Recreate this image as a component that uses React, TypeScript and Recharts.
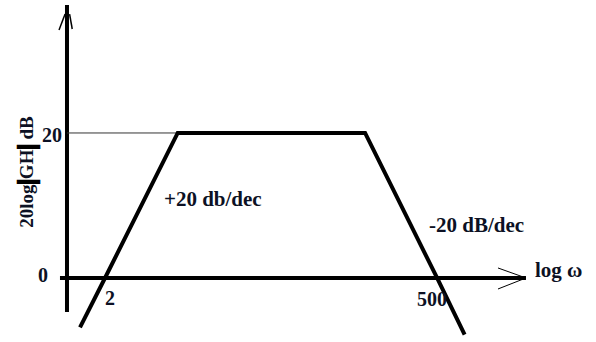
import React from "react";
import {
  LineChart,
  Line,
  XAxis,
  YAxis,
  ReferenceLine,
  ReferenceDot,
} from "recharts";

// Asymptotic magnitude plot: +20 dB/dec rise, flat 20 dB band, -20 dB/dec fall
const omega = [1.32, 2, 6.7, 151, 500, 790];
const gainDb = [-6.8, 0, 20, 20, 0, -7.8];

const levelTicks = [
  { text: "20", omega: 0.978, db: 18.76 },
  { text: "0", omega: 0.775, db: -0.55 },
];
const crossoverTicks = [
  { text: "2", omega: 2.174, db: -3.72 },
  { text: "500", omega: 459, db: -3.86 },
];
const slopeNotes = [
  { text: "+20 db/dec", omega: 5.33, db: 9.93 },
  { text: "-20 dB/dec", omega: 437, db: 6.34 },
  { text: "log ω", omega: 2546, db: 0.14 },
];

// hand-drawn axes (log ω horizontally, dB vertically)
const Y_AXIS_OMEGA = 1.063;
const X_AXIS_START = 0.946;
const X_AXIS_END = 2191;
const Y_AXIS_TOP = 37.66;
const Y_AXIS_BOTTOM = -4.69;

const W = 596;
const H = 342;
const INK = "#0c1124";
const FONT = "'Liberation Serif', 'Times New Roman', serif";

const chartData = omega.map((w, i) => ({ omega: w, gain: gainDb[i] }));

const textShape =
  (text: string, anchor: "start" | "middle" | "end", size = 20) =>
  (props: any) =>
    (
      <text
        x={props.cx}
        y={props.cy}
        textAnchor={anchor}
        fill={INK}
        fontFamily={FONT}
        fontWeight="bold"
        fontSize={size}
      >
        {text}
      </text>
    );

const axisTitleShape = (props: any) => (
  <text
    x={props.cx}
    y={props.cy}
    transform={`rotate(-90, ${props.cx}, ${props.cy})`}
    textAnchor="middle"
    dominantBaseline="central"
    fill={INK}
    fontFamily={FONT}
    fontWeight="bold"
    fontSize={19}
  >
    20log
    <tspan fontSize={24} fill="#000" stroke="#000" strokeWidth={2.5}>
      |
    </tspan>
    GH
    <tspan fontSize={24} fill="#000" stroke="#000" strokeWidth={2.5}>
      |
    </tspan>{" "}
    dB
  </text>
);

const App: React.FC = () => {
  return (
    <div style={{ position: "absolute", left: 0, top: 0, background: "#fff" }}>
      <LineChart
        width={W}
        height={H}
        data={chartData}
        margin={{ top: 0, right: 0, bottom: 0, left: 0 }}
      >
        <XAxis
          dataKey="omega"
          type="number"
          scale="log"
          domain={[0.349, 7020]}
          hide
        />
        <YAxis type="number" domain={[-8.83, 38.34]} hide />

        {/* axes */}
        <ReferenceLine
          segment={[
            { x: Y_AXIS_OMEGA, y: Y_AXIS_TOP },
            { x: Y_AXIS_OMEGA, y: Y_AXIS_BOTTOM },
          ]}
          stroke="#000"
          strokeWidth={4}
        />
        <ReferenceLine
          segment={[
            { x: X_AXIS_START, y: 0 },
            { x: X_AXIS_END, y: 0 },
          ]}
          stroke="#000"
          strokeWidth={4}
        />
        <ReferenceLine
          segment={[
            { x: 1376, y: 1.38 },
            { x: X_AXIS_END, y: 0 },
          ]}
          stroke="#000"
          strokeWidth={1}
        />
        <ReferenceLine
          segment={[
            { x: 1376, y: -1.52 },
            { x: X_AXIS_END, y: 0 },
          ]}
          stroke="#000"
          strokeWidth={1}
        />
        <ReferenceLine
          segment={[
            { x: 1.03, y: 36.4 },
            { x: 0.931, y: 34.21 },
          ]}
          stroke="#000"
          strokeWidth={1.5}
        />
        <ReferenceLine
          segment={[
            { x: 1.11, y: 36.4 },
            { x: 1.16, y: 34.34 },
          ]}
          stroke="#000"
          strokeWidth={1.5}
        />

        {/* 20 dB guide */}
        <ReferenceLine
          segment={[
            { x: Y_AXIS_OMEGA, y: 20 },
            { x: omega[2], y: 20 },
          ]}
          stroke="#333"
          strokeWidth={1}
        />

        <Line
          type="linear"
          dataKey="gain"
          stroke="#000"
          strokeWidth={4}
          dot={false}
          activeDot={false}
          isAnimationActive={false}
        />

        {levelTicks.map((t) => (
          <ReferenceDot
            key={t.text}
            x={t.omega}
            y={t.db}
            r={0}
            shape={textShape(t.text, "end")}
          />
        ))}
        {crossoverTicks.map((t) => (
          <ReferenceDot
            key={t.text}
            x={t.omega}
            y={t.db}
            r={0}
            shape={textShape(t.text, "middle")}
          />
        ))}
        {slopeNotes.map((t) => (
          <ReferenceDot
            key={t.text}
            x={t.omega}
            y={t.db}
            r={0}
            shape={textShape(t.text, "start", 21)}
          />
        ))}
        <ReferenceDot x={0.538} y={14.62} r={0} shape={axisTitleShape} />
      </LineChart>
    </div>
  );
};

export default App;
